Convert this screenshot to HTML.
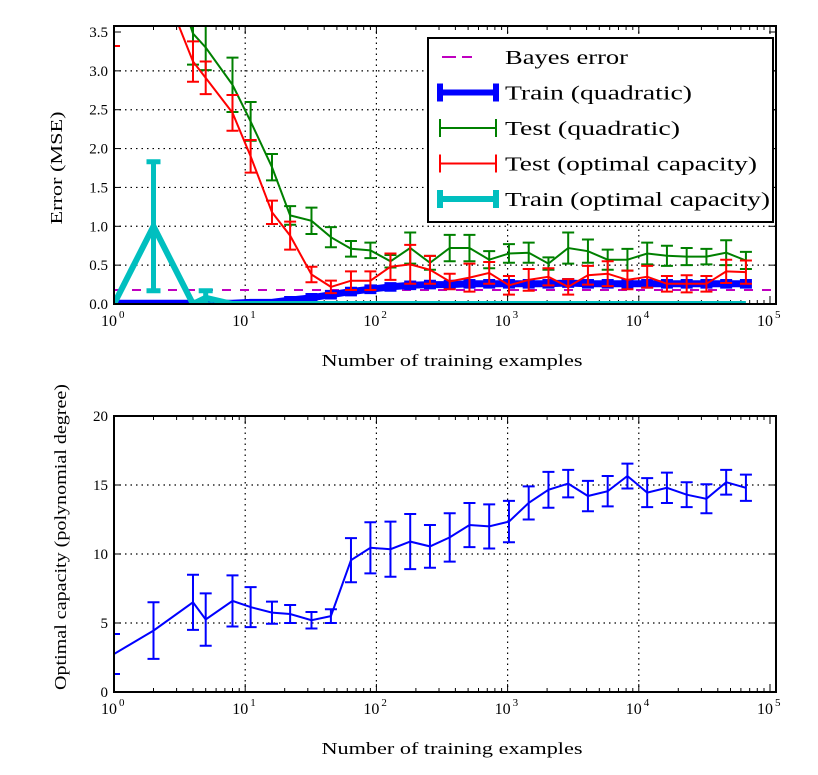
<!DOCTYPE html>
<html><head><meta charset="utf-8">
<style>
body{margin:0;background:#fff;}
svg{display:block;font-family:"Liberation Serif",serif;}
</style></head>
<body>
<svg id="fig" width="818" height="775" viewBox="0 0 818 775" xmlns="http://www.w3.org/2000/svg">
<defs>
<clipPath id="clipTop"><rect x="114" y="26" width="662" height="278"/></clipPath>
<clipPath id="clipBot"><rect x="114" y="416" width="662" height="276"/></clipPath>
</defs>
<g id="top"></g>
<g id="bot"></g>
</svg>
<script>
const sizes=[1,2,4,5,8,11,16,22,32,45,64,90,128,181,256,362,512,724,1024,1448,2048,2896,4096,5793,8192,11585,16384,23170,32768,46341,65536];
const testQuad=[6.5,5.0,3.48,3.3,2.82,2.35,1.76,1.14,1.07,0.86,0.71,0.69,0.55,0.72,0.53,0.72,0.72,0.57,0.65,0.66,0.52,0.72,0.68,0.57,0.57,0.65,0.62,0.61,0.61,0.66,0.56];
const testQuadErr=[0.5,0.5,0.4,0.29,0.35,0.25,0.17,0.12,0.17,0.13,0.1,0.1,0.08,0.2,0.09,0.17,0.17,0.11,0.12,0.13,0.08,0.2,0.15,0.13,0.14,0.14,0.13,0.11,0.1,0.16,0.11];
const testOpt=[5.0,4.4,3.12,2.91,2.46,1.9,1.18,0.88,0.38,0.22,0.3,0.3,0.48,0.51,0.44,0.29,0.34,0.40,0.24,0.31,0.35,0.22,0.37,0.39,0.31,0.35,0.26,0.26,0.26,0.42,0.41];
const testOptErr=[1.68,0.4,0.26,0.21,0.23,0.21,0.15,0.18,0.1,0.08,0.12,0.12,0.17,0.25,0.18,0.1,0.18,0.14,0.12,0.14,0.11,0.1,0.12,0.16,0.12,0.14,0.1,0.11,0.1,0.15,0.15];
const trainQuad=[0.01,0.01,0.01,0.01,0.01,0.02,0.02,0.05,0.08,0.12,0.16,0.19,0.22,0.24,0.25,0.25,0.26,0.26,0.26,0.26,0.26,0.27,0.26,0.26,0.26,0.26,0.26,0.26,0.26,0.26,0.26];
const trainQuadErr=[0.01,0.01,0.01,0.01,0.01,0.01,0.01,0.02,0.03,0.03,0.03,0.03,0.03,0.03,0.03,0.03,0.03,0.03,0.03,0.03,0.03,0.03,0.03,0.03,0.03,0.03,0.03,0.03,0.03,0.03,0.03];
const trainOpt=[0,1.0,0,0.08,0,0,0,0,0,0,0,0,0,0,0,0,0,0,0,0,0,0,0,0,0,0,0,0,0,0,0];
const trainOptErr=[0,0.83,0,0.09,0,0,0,0,0,0,0,0,0,0,0,0,0,0,0,0,0,0,0,0,0,0,0,0,0,0,0];
const bayesError=0.18;
const capacity=[2.75,4.45,6.5,5.25,6.6,6.15,5.75,5.65,5.2,5.5,9.55,10.45,10.35,10.9,10.55,11.2,12.1,12.0,12.35,13.7,14.65,15.1,14.2,14.55,15.65,14.45,14.8,14.3,14.0,15.2,14.8];
const capacityErr=[1.45,2.05,2.0,1.9,1.85,1.45,0.8,0.65,0.6,0.5,1.6,1.85,2.0,2.0,1.55,1.75,1.6,1.6,1.5,1.2,1.3,1.0,1.1,1.1,0.9,1.05,1.1,0.9,1.05,0.9,0.95];
const topTicks=["0.0","0.5","1.0","1.5","2.0","2.5","3.0","3.5"];
const topTickVals=[0,0.5,1,1.5,2,2.5,3,3.5];
const botTicks=["0","5","10","15","20"];
const botTickVals=[0,5,10,15,20];
const decades=[0,1,2,3,4,5];

const NS="http://www.w3.org/2000/svg";
const X0=114,DEC=131.2,XR=776;
const xs=v=>X0+DEC*Math.log10(v);
function mk(p,tag,a){const e=document.createElementNS(NS,tag);for(const k in a)e.setAttribute(k,a[k]);p.appendChild(e);return e;}

function axes(g,top,bot,ticks,tvals,ys,xlabel,ylabel,ylx,ylen,cy){
  decades.forEach(d=>{const x=xs(Math.pow(10,d));if(d>0&&d<5){const l=mk(g,'line',{x1:x,x2:x,y1:top,y2:bot,stroke:'#000','stroke-width':1.2,'stroke-dasharray':'1.5,4'});
  
  }});
  tvals.forEach((v,i)=>{const y=ys(v);if(i>0&&i<tvals.length-1){const l=mk(g,'line',{x1:X0,x2:XR,y1:y,y2:y,stroke:'#000','stroke-width':1.2,'stroke-dasharray':'1.5,4'});
  
  }
  mk(g,'line',{x1:X0,x2:X0+7,y1:y,y2:y,stroke:'#000','stroke-width':1});
  mk(g,'line',{x1:XR,x2:XR-7,y1:y,y2:y,stroke:'#000','stroke-width':1});
  const t=mk(g,'text',{x:X0-6,y:y+5,'text-anchor':'end','font-size':15});t.textContent=ticks[i];
  
  });
  decades.forEach(d=>{const x=xs(Math.pow(10,d));
    mk(g,'line',{x1:x,x2:x,y1:bot,y2:bot-8,stroke:'#000','stroke-width':1});
    mk(g,'line',{x1:x,x2:x,y1:top,y2:top+8,stroke:'#000','stroke-width':1});
    const t=mk(g,'text',{x:x-5,y:bot+22,'text-anchor':'middle','font-size':16});t.textContent='10';
    
    
    const s=mk(g,'text',{x:x+5,y:bot+14,'font-size':11});s.textContent=String(d);
    if(d<5)for(let m=2;m<10;m++){const xm=xs(m*Math.pow(10,d));if(xm>XR)break;
      mk(g,'line',{x1:xm,x2:xm,y1:bot,y2:bot-4,stroke:'#000','stroke-width':1});
      mk(g,'line',{x1:xm,x2:xm,y1:top,y2:top+4,stroke:'#000','stroke-width':1});}
  });
  const xl=mk(g,'text',{x:452,y:bot+62,'text-anchor':'middle','font-size':17,textLength:261,lengthAdjust:'spacingAndGlyphs'});xl.textContent=xlabel;
  
  
  const yl=mk(g,'text',{x:ylx,y:cy,'text-anchor':'middle','font-size':17,textLength:ylen,lengthAdjust:'spacingAndGlyphs',transform:`rotate(-90 ${ylx} ${cy})`});yl.textContent=ylabel;
  
  
}
function frame(g,top,bot){const r=mk(g,'rect',{x:X0,y:top,width:XR-X0,height:bot-top,fill:'none',stroke:'#000','stroke-width':2});
  
  }
function series(g,vals,errs,ys,color,lw,elw,cap,name,clip){
  const sg=mk(g,'g',{'clip-path':`url(#${clip})`});
  
  
  const pts=vals.map((v,i)=>xs(sizes[i]).toFixed(1)+','+ys(v).toFixed(1)).join(' ');
  const pl=mk(sg,'polyline',{points:pts,fill:'none',stroke:color,'stroke-width':lw,'stroke-linejoin':'miter'});
  
  
  vals.forEach((v,i)=>{if(!errs[i])return;const x=xs(sizes[i]),y1=ys(v-errs[i]),y2=ys(v+errs[i]);
    const e=mk(sg,'path',{d:`M${x},${y1}V${y2}M${x-cap},${y1}H${x+cap}M${x-cap},${y2}H${x+cap}`,stroke:color,'stroke-width':elw,fill:'none'});
    
    });
}
const T=document.getElementById('top');
const TT=26,TB=304;const ysT=v=>TB-(v/3.5)*(TB-32);
axes(T,TT,TB,topTicks,topTickVals,ysT,'Number of training examples','Error (MSE)',62,113,168);
const bl=mk(T,'line',{x1:X0,x2:XR,y1:ysT(bayesError),y2:ysT(bayesError),stroke:'#bf00bf','stroke-width':2,'stroke-dasharray':'9,9'});


series(T,trainQuad,trainQuadErr,ysT,'#0000ff',7,5,6,'train-quadratic','clipTop');
series(T,trainOpt,trainOptErr,ysT,'#00bfbf',6,5,7,'train-optimal','clipTop');
series(T,testQuad,testQuadErr,ysT,'#008000',2,2,6,'test-quadratic','clipTop');
series(T,testOpt,testOptErr,ysT,'#ff0000',2,2,6,'test-optimal','clipTop');
frame(T,TT,TB);
const L=mk(T,'g',{});


mk(L,'rect',{x:428,y:38,width:345,height:184,fill:'#fff',stroke:'#000','stroke-width':2});
const leg=[['Bayes error','#bf00bf','dash',123],['Train (quadratic)','#0000ff','thick',187],['Test (quadratic)','#008000','thin',175],['Test (optimal capacity)','#ff0000','thin',252],['Train (optimal capacity)','#00bfbf','thick',265]];
leg.forEach((l,i)=>{const y=57+i*35.5;const eg=mk(L,'g',{});
  
  
  if(l[2]==='dash'){mk(eg,'path',{d:`M442,${y}h14M462,${y}h10`,stroke:l[1],'stroke-width':2});}
  else{const w=l[2]==='thick'?6:2;mk(eg,'path',{d:`M440,${y}H496M440,${y-9}V${y+9}M496,${y-9}V${y+9}`,stroke:l[1],'stroke-width':w,fill:'none'});}
  const t=mk(eg,'text',{x:505,y:y+7,'font-size':20,textLength:l[3],lengthAdjust:'spacingAndGlyphs'});t.textContent=l[0];});
const B=document.getElementById('bot');
const BT=416,BB=692;const ysB=v=>BB-(v/20)*(BB-BT);
axes(B,BT,BB,botTicks,botTickVals,ysB,'Number of training examples','Optimal capacity (polynomial degree)',66,306,537);
series(B,capacity,capacityErr,ysB,'#0000ff',2,2,6,'optimal-capacity','clipBot');
frame(B,BT,BB);
</script>
</body></html>
